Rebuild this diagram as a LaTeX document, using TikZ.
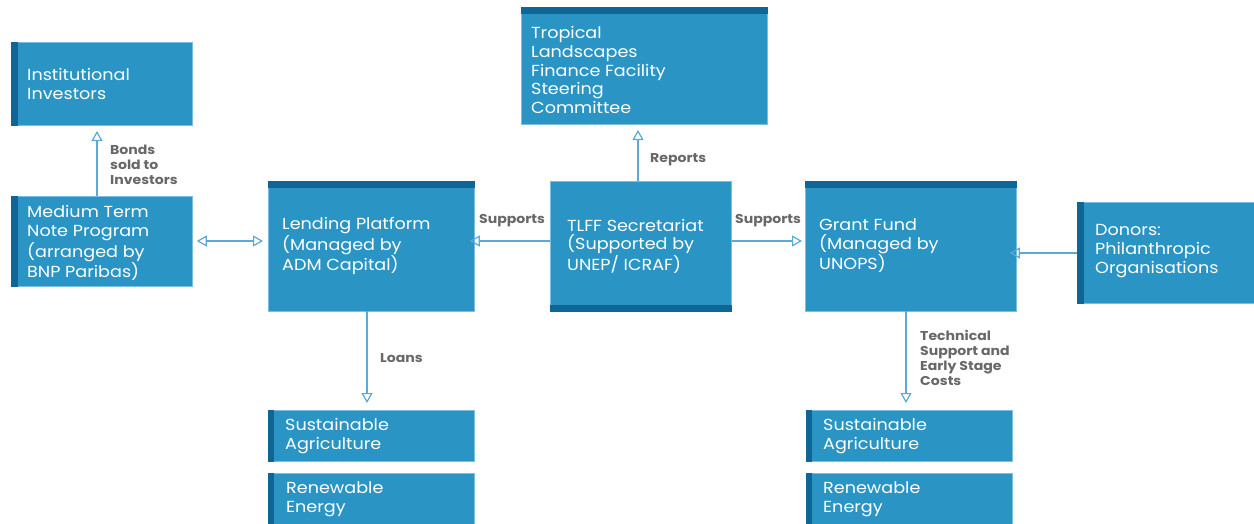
\documentclass[tikz,border=0pt]{standalone}
\usepackage{fontspec}
\setmainfont{Poppins}[FakeStretch=1.1]
\usetikzlibrary{arrows.meta}
\definecolor{boxfill}{HTML}{2A94C4}
\definecolor{boxbar}{HTML}{0D6696}
\definecolor{boxedge}{HTML}{7DBEE0}
\definecolor{arr}{HTML}{5AA9D6}
\definecolor{lbl}{HTML}{686868}
\begin{document}
\begin{tikzpicture}[x=1pt,y=-1pt,
  box/.style={rectangle,fill=boxfill,draw=boxedge,line width=0.8pt,anchor=north west,inner sep=0pt},
  bar/.style={fill=boxbar},
  txt/.style={anchor=west,align=left,text=white,inner sep=0pt,font=\fontsize{16}{18.8}\selectfont},
  lab/.style={align=left,text=lbl,inner sep=0pt,font=\fontsize{12.8}{15}\selectfont\bfseries},
  tip/.tip={Triangle[open,length=10pt,width=11pt,line width=1.2pt]},
  conn/.style={draw=arr,line width=1.2pt,-tip},
  conn2/.style={draw=arr,line width=1.2pt,tip-tip}]
\useasboundingbox (0,0) rectangle (1254,523);
\fill[white] (0,0) rectangle (1254,523);
% boxes
\node[box,minimum width=181pt,minimum height=83pt] (inst) at (11,42) {};
\node[box,minimum width=181pt,minimum height=90pt] (mtn) at (11,196) {};
\node[box,minimum width=206pt,minimum height=130pt] (lend) at (268,181) {};
\node[box,minimum width=181pt,minimum height=130pt] (sec) at (550,181) {};
\node[box,minimum width=246pt,minimum height=117pt] (trop) at (521,7) {};
\node[box,minimum width=211pt,minimum height=130pt] (grant) at (805,181) {};
\node[box,minimum width=180pt,minimum height=101pt] (don) at (1077,202) {};
\node[box,minimum width=206pt,minimum height=51pt] (sa1) at (268,410) {};
\node[box,minimum width=206pt,minimum height=52pt] (re1) at (268,473) {};
\node[box,minimum width=206pt,minimum height=51pt] (sa2) at (806,410) {};
\node[box,minimum width=206pt,minimum height=52pt] (re2) at (806,473) {};
% accent bars
\fill[bar] (inst.north west) rectangle ([xshift=7pt]inst.south west);
\fill[bar] (mtn.north west) rectangle ([xshift=7pt]mtn.south west);
\fill[bar] (don.north west) rectangle ([xshift=7pt]don.south west);
\fill[bar] (sa1.north west) rectangle ([xshift=6pt]sa1.south west);
\fill[bar] (re1.north west) rectangle ([xshift=6pt]re1.south west);
\fill[bar] (sa2.north west) rectangle ([xshift=6pt]sa2.south west);
\fill[bar] (re2.north west) rectangle ([xshift=6pt]re2.south west);
\fill[bar] (lend.north west) rectangle ([yshift=-7pt]lend.north east);
\fill[bar] (grant.north west) rectangle ([yshift=-7pt]grant.north east);
\fill[bar] (trop.north west) rectangle ([yshift=-7pt]trop.north east);
\fill[bar] ([yshift=7pt]sec.south west) rectangle (sec.south east);
% texts
\node[txt] (instt) at (27,84) {Institutional\\Investors};
\node[txt] (mtnt) at (27,243) {Medium Term\\Note Program\\(arranged by\\BNP Paribas)};
\node[txt] (lendt) at (282,246) {Lending Platform\\(Managed by\\ADM Capital)};
\node[txt] (sect) at (567,246) {TLFF Secretariat\\(Supported by\\UNEP/ ICRAF)};
\node[txt] (tropt) at (531,70) {Tropical\\Landscapes\\Finance Facility\\Steering\\Committee};
\node[txt] (grantt) at (819,246) {Grant Fund\\(Managed by\\UNOPS)};
\node[txt] (dont) at (1095,251) {Donors:\\Philanthropic\\Organisations};
\node[txt] (sa1t) at (285,436) {Sustainable\\Agriculture};
\node[txt] (re1t) at (286,499) {Renewable\\Energy};
\node[txt] (sa2t) at (823,436) {Sustainable\\Agriculture};
\node[txt] (re2t) at (823,499) {Renewable\\Energy};
% connectors
\coordinate (mtop) at (97,196);
\coordinate (itop) at (97,131);
\draw[conn] (mtop) -- (itop);
\draw[conn2] ([xshift=4pt]mtn.east |- 0,241) -- ([xshift=-5pt]lend.west |- 0,241);
\draw[conn] (sec.west |- 0,241) -- ([xshift=-5pt]lend.east |- 0,241);
\draw[conn] (sec.east |- 0,241) -- ([xshift=-3pt]grant.west |- 0,241);
\draw[conn] (638,181) -- ([yshift=-6pt]638,124);
\draw[conn] (don.west |- 0,253) -- ([xshift=-7pt]grant.east |- 0,253);
\draw[conn] (367,311) -- (367,403);
\draw[conn] (906,311) -- (906,403);
% labels
\node[lab,anchor=west] (l1) at (110,165) {Bonds\\sold to\\Investors};
\node[lab,anchor=west] (l2) at (479,221) {Supports};
\node[lab,anchor=west] (l3) at (735,221) {Supports};
\node[lab,anchor=west] (l4) at (650,160) {Reports};
\node[lab,anchor=west] (l5) at (380,358) {Loans};
\node[lab,anchor=west] (l6) at (920,358) {Technical\\Support and\\Early Stage\\Costs};
\end{tikzpicture}
\end{document}
